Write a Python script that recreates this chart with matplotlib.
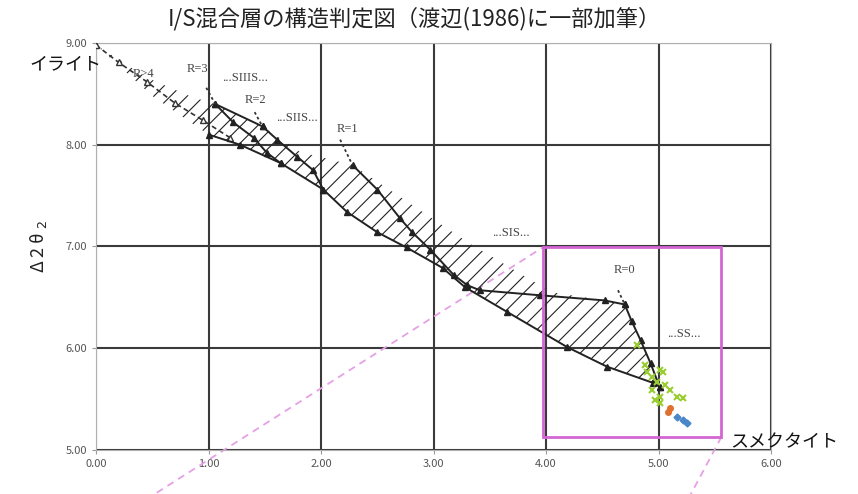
import numpy as np
import matplotlib.pyplot as plt
from matplotlib.patches import Polygon, Rectangle

plt.rcParams['font.family'] = ['Noto Sans CJK JP', 'DejaVu Sans']
plt.rcParams['hatch.linewidth'] = 0.8

# band envelope (hatched area)
top_x = [0.00, 0.45, 0.85, 1.06, 1.48, 1.81, 2.28, 2.70, 3.32, 4.05, 4.52, 4.70, 4.84, 5.01]
top_y = [8.98, 8.66, 8.47, 8.40, 8.18, 7.93, 7.80, 7.49, 7.03, 6.55, 6.47, 6.43, 6.08, 5.62]
bot_x = [0.00, 0.50, 1.00, 1.28, 1.64, 2.02, 2.23, 2.50, 2.76, 3.08, 3.28, 3.65, 4.19, 4.54, 4.95, 5.01]
bot_y = [8.98, 8.48, 8.10, 8.00, 7.82, 7.56, 7.34, 7.14, 6.99, 6.79, 6.60, 6.36, 6.01, 5.82, 5.66, 5.62]

# reichweite curves
r4_x = [0.00, 0.20, 0.45, 0.70, 0.95, 1.19]
r4_y = [8.98, 8.81, 8.62, 8.41, 8.24, 8.07]
r3_x = [1.06, 1.22, 1.40, 1.52, 1.64]
r3_y = [8.40, 8.22, 8.07, 7.92, 7.82]
r2_x = [1.48, 1.61, 1.79, 1.93, 2.02]
r2_y = [8.18, 8.05, 7.88, 7.75, 7.56]
r1_x = [2.28, 2.50, 2.70, 2.81, 2.97, 3.18, 3.30]
r1_y = [7.80, 7.56, 7.28, 7.14, 6.97, 6.72, 6.62]
r0_x = [4.70, 4.76, 4.84, 4.93, 5.01]
r0_y = [6.43, 6.27, 6.08, 5.85, 5.62]
hz_x = [3.30, 3.41, 3.95, 4.52, 4.70]
hz_y = [6.62, 6.57, 6.52, 6.47, 6.43]
top23_x = [1.06, 1.48]
top23_y = [8.40, 8.18]

# dotted leaders from the R labels
lead_x = [[0.98, 1.06], [1.41, 1.48], [2.17, 2.28], [4.64, 4.70]]
lead_y = [[8.56, 8.40], [8.32, 8.18], [8.05, 7.80], [6.57, 6.43]]

# measured samples
green_x = [4.81, 4.88, 4.94, 5.01, 5.04, 4.99, 4.94, 5.01, 5.10, 5.16, 5.22, 5.06, 4.97, 5.01, 4.90]
green_y = [6.03, 5.84, 5.72, 5.79, 5.77, 5.67, 5.59, 5.52, 5.59, 5.52, 5.51, 5.64, 5.49, 5.46, 5.77]
orange_x = [5.10, 5.08]
orange_y = [5.41, 5.37]
blue_x = [5.16, 5.22, 5.25]
blue_y = [5.32, 5.29, 5.27]

# smectite window and guides
box_x = [3.97, 5.56]
box_y = [5.13, 6.99]
guide1_x = [0.54, 3.97]
guide1_y = [4.58, 6.99]
guide2_x = [5.56, 5.28]
guide2_y = [5.13, 4.55]

fig = plt.figure(figsize=(8.58, 4.94), dpi=100)
ax = fig.add_axes([0.1119, 0.0891, 0.7867, 0.8239])

poly = np.column_stack([top_x + bot_x[::-1], top_y + bot_y[::-1]])
ax.add_patch(Polygon(poly, closed=True, facecolor='none', edgecolor='#222222',
                     linewidth=0, hatch='//', zorder=2))

ax.plot(r4_x, r4_y, color='#333333', lw=1.2, ls=(0, (3, 2)), marker='^', ms=4,
        mfc='white', mec='#333333', zorder=3)
for xs, ys in [(r3_x, r3_y), (r2_x, r2_y), (r1_x, r1_y), (r0_x, r0_y),
               (bot_x[2:], bot_y[2:]), (hz_x, hz_y), (top23_x, top23_y)]:
    ax.plot(xs, ys, color='#222222', lw=1.4, marker='^', ms=4, zorder=3)
for xs, ys in zip(lead_x, lead_y):
    ax.plot(xs, ys, color='#333333', lw=1.3, ls=(0, (1.5, 1.5)), zorder=3)

ax.plot(green_x, green_y, ls='none', marker='x', ms=5, mew=1.5, color='#9acd32', zorder=4)
ax.plot(orange_x, orange_y, ls='none', marker='o', ms=4, color='#e07030', zorder=4)
ax.plot(blue_x, blue_y, ls='none', marker='D', ms=3.5, color='#4a86c8', zorder=4)

ax.add_patch(Rectangle((box_x[0], box_y[0]), box_x[1] - box_x[0], box_y[1] - box_y[0],
                       fill=False, edgecolor='#d466d4', lw=2, zorder=4))
ax.plot(guide1_x, guide1_y, color='#e6a0e6', lw=1.3, ls=(0, (4, 3)), clip_on=False, zorder=1)
ax.plot(guide2_x, guide2_y, color='#e6a0e6', lw=1.3, ls=(0, (4, 3)), clip_on=False, zorder=1)

serif = ['Liberation Serif', 'DejaVu Serif']
lab_c = '#444444'
ax.text(0.81, 8.71, 'R=3', family=serif, fontsize=9, color=lab_c)
ax.text(1.12, 8.66, '...SIIIS...', family=serif, fontsize=9, color=lab_c, va='center')
ax.text(1.32, 8.44, 'R=2', family=serif, fontsize=9, color=lab_c, va='center')
ax.text(1.60, 8.26, '...SIIS...', family=serif, fontsize=9, color=lab_c, va='center')
ax.text(2.14, 8.15, 'R=1', family=serif, fontsize=9, color=lab_c, va='center')
ax.text(3.52, 7.13, '...SIS...', family=serif, fontsize=9, color=lab_c, va='center')
ax.text(4.60, 6.77, 'R=0', family=serif, fontsize=9, color=lab_c, va='center')
ax.text(5.08, 6.14, '...SS...', family=serif, fontsize=9, color=lab_c, va='center')
ax.text(0.33, 8.70, 'R>4', family=serif, fontsize=9, color=lab_c, va='center')

ax.text(-0.59, 8.79, 'イライト', fontsize=13, color='#111111', va='center')
ax.text(5.64, 5.08, 'スメクタイト', fontsize=13, color='#111111', va='center')

ax.set_xlim(0, 6)
ax.set_ylim(5, 9)
ax.set_xticks(np.arange(0, 7, 1))
ax.set_yticks(np.arange(5, 10, 1))
ax.set_xticklabels([f'{v:.2f}' for v in np.arange(0, 7, 1)])
ax.set_yticklabels([f'{v:.2f}' for v in np.arange(5, 10, 1)])
ax.tick_params(labelsize=8, labelcolor='#555555', color='#999999', length=3)
ax.grid(True, color='#3a3a3a', lw=1.5)
ax.set_axisbelow(True)
for s in ax.spines.values():
    s.set_color('#b0b0b0')

ax.set_ylabel('Δ 2 θ $_{2}$', fontsize=13, color='#222222', labelpad=12)
fig.text(0.483, 0.962, 'I/S混合層の構造判定図（渡辺(1986)に一部加筆）', fontsize=16,
         ha='center', va='center', color='#222222')

fig.savefig('out.png', dpi=100)
